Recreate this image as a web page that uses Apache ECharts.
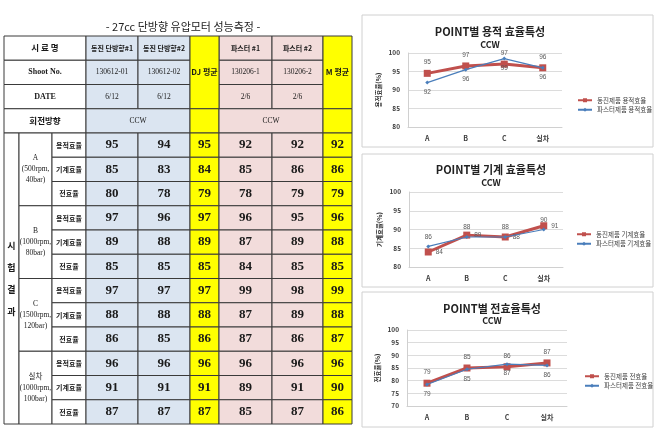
<!DOCTYPE html>
<html><head><meta charset="utf-8">
<script src="https://cdn.jsdelivr.net/npm/echarts@6/dist/echarts.min.js"></script>
<style>html,body{margin:0;padding:0;background:#fff}#c{width:659px;height:439px}</style>
</head><body><div id="c"></div>
<script>
// ---------------- table data ----------------
const tableTitle = '- 27cc 단방향 유압모터 성능측정 -';
const sampleNames = ['동진 단방향#1', '동진 단방향#2', '파스터 #1', '파스터 #2'];
const avgNames = ['DJ 평균', 'M 평균'];
const shootNos = ['130612-01', '130612-02', '130206-1', '130206-2'];
const dates = ['6/12', '6/12', '2/6', '2/6'];
const rotation = ['CCW', 'CCW'];
const pointNames = ['A\n(500rpm,\n40bar)', 'B\n(1000rpm,\n80bar)', 'C\n(1500rpm,\n120bar)', '실차\n(1000rpm,\n100bar)'];
const metricNames = ['용적효율', '기계효율', '전효율'];
const dj1  = [95, 85, 80, 97, 89, 85, 97, 88, 86, 96, 91, 87];
const dj2  = [94, 83, 78, 96, 88, 85, 97, 88, 85, 96, 91, 87];
const djAv = [95, 84, 79, 97, 89, 85, 97, 88, 86, 96, 91, 87];
const ms1  = [92, 85, 78, 96, 87, 84, 99, 87, 87, 96, 89, 85];
const ms2  = [92, 86, 79, 95, 89, 85, 98, 89, 86, 96, 91, 87];
const msAv = [92, 86, 79, 96, 88, 85, 99, 88, 87, 96, 90, 86];

// ---------------- chart data ----------------
const categories = ['A', 'B', 'C', '실차'];
const djVolume = [94.5, 96.5, 97, 96];
const msVolume = [92, 95.5, 98.5, 96];
const djMech = [84, 88.5, 88, 91];
const msMech = [85.5, 88, 88, 90];
const djTotal = [79, 85, 85.5, 87];
const msTotal = [78.5, 84.5, 86.5, 86];
const chartTitles = ['POINT별 용적 효율특성', 'POINT별 기계 효율특성', 'POINT별 전효율특성'];
const chartSub = 'CCW';
const yNames = ['용적효율(%)', '기계효율(%)', '전효율(%)'];
const seriesNames = [
  ['동진제품 용적효율', '파스터제품 용적효율'],
  ['동진제품 기계효율', '파스터제품 기계효율'],
  ['동진제품 전효율', '파스터제품 전효율']
];

// ---------------- layout ----------------
const colEdges = [0, 15, 48, 82, 134, 186, 215, 268, 319, 348];
const KR = '"Noto Sans CJK KR", sans-serif';
const SER = '"Liberation Serif", "Noto Sans CJK KR", serif';
const FILL = { w: '#ffffff', b: '#dbe5f1', p: '#f2dcdb', y: '#ffff00' };
const kinds = {
  hdrK:   { fill: FILL.w, font: KR, size: 8.5, weight: 'bold' },
  hdrE:   { fill: FILL.w, font: SER, size: 8, weight: 'bold' },
  blueK:  { fill: FILL.b, font: KR, size: 7, weight: 'bold' },
  pinkK:  { fill: FILL.p, font: KR, size: 7, weight: 'bold' },
  blueS:  { fill: FILL.b, font: SER, size: 7.5, weight: 'normal' },
  pinkS:  { fill: FILL.p, font: SER, size: 7.5, weight: 'normal' },
  avgHdr: { fill: FILL.y, font: KR, size: 8, weight: 'bold' },
  sideK:  { fill: FILL.w, font: KR, size: 9, weight: 'bold', lh: 22 },
  pointE: { fill: FILL.w, font: SER, size: 7.5, weight: 'normal', lh: 11 },
  metricK:{ fill: FILL.w, font: KR, size: 7, weight: 'bold' },
  blueV:  { fill: FILL.b, font: SER, size: 13, weight: 'bold' },
  pinkV:  { fill: FILL.p, font: SER, size: 13, weight: 'bold' },
  avgV:   { fill: FILL.y, font: SER, size: 13, weight: 'bold' }
};

const cells = [];
function cell(c0, c1, r0, r1, text, kind) { cells.push({ c0, c1, r0, r1, text: String(text), kind }); }
cell(0, 3, 0, 1, '시 료 명', 'hdrK');
cell(0, 3, 1, 2, 'Shoot No.', 'hdrE');
cell(0, 3, 2, 3, 'DATE', 'hdrE');
cell(0, 3, 3, 4, '회전방향', 'hdrK');
const sampleCols = [3, 4, 6, 7];
sampleNames.forEach((n, i) => {
  const c = sampleCols[i], k = i < 2 ? 'blue' : 'pink';
  cell(c, c + 1, 0, 1, n, k + 'K');
  cell(c, c + 1, 1, 2, shootNos[i], k + 'S');
  cell(c, c + 1, 2, 3, dates[i], k + 'S');
});
cell(5, 6, 0, 3, avgNames[0], 'avgHdr');
cell(8, 9, 0, 3, avgNames[1], 'avgHdr');
cell(3, 5, 3, 4, rotation[0], 'blueS');
cell(5, 6, 3, 4, '', 'avgHdr');
cell(6, 8, 3, 4, rotation[1], 'pinkS');
cell(8, 9, 3, 4, '', 'avgHdr');
cell(0, 1, 4, 16, '시\n험\n결\n과', 'sideK');
pointNames.forEach((p, g) => cell(1, 2, 4 + 3 * g, 7 + 3 * g, p, 'pointE'));
for (let r = 0; r < 12; r++) {
  const row = 4 + r;
  cell(2, 3, row, row + 1, metricNames[r % 3], 'metricK');
  cell(3, 4, row, row + 1, dj1[r], 'blueV');
  cell(4, 5, row, row + 1, dj2[r], 'blueV');
  cell(5, 6, row, row + 1, djAv[r], 'avgV');
  cell(6, 7, row, row + 1, ms1[r], 'pinkV');
  cell(7, 8, row, row + 1, ms2[r], 'pinkV');
  cell(8, 9, row, row + 1, msAv[r], 'avgV');
}

function renderCell(params, api) {
  const c = cells[params.dataIndex];
  const st = kinds[c.kind];
  const p0 = api.coord([api.value(0), api.value(2)]);
  const p1 = api.coord([api.value(1), api.value(3)]);
  const w = p1[0] - p0[0], h = p1[1] - p0[1];
  return {
    type: 'group',
    children: [
      { type: 'rect', shape: { x: p0[0], y: p0[1], width: w, height: h },
        style: { fill: st.fill, stroke: '#3a3a3a', lineWidth: 1 } },
      { type: 'text', x: p0[0] + w / 2, y: p0[1] + h / 2,
        style: { text: c.text, align: 'center', verticalAlign: 'middle',
          fontFamily: st.font, fontSize: st.size, fontWeight: st.weight,
          lineHeight: st.lh || st.size * 1.2, fill: '#1a1a1a' } }
    ]
  };
}

// ---------------- charts ----------------
const grids = [
  { left: 408, top: 53, width: 154, height: 74 },
  { left: 409, top: 192, width: 154, height: 75 },
  { left: 407, top: 330, width: 160, height: 76 }
];
const yRanges = [[80, 100], [80, 100], [70, 100]];
const titleY = [[21, 35], [159, 173], [298, 311]];
const legendPos = [[572, 92], [571, 226], [579, 368]];
const labelPos = [['top', 'bottom'], ['right', 'top'], ['top', 'bottom']];
const seriesData = [[djVolume, msVolume], [djMech, msMech], [djTotal, msTotal]];

const option = {
  animation: false,
  backgroundColor: '#ffffff',
  title: [
    { text: tableTitle, left: 178, top: 16, textAlign: 'center',
      textStyle: { fontFamily: KR, fontSize: 11, fontWeight: 'normal', color: '#222' } }
  ],
  grid: [{ left: 4, top: 36, width: 348, height: 388 }],
  xAxis: [{ type: 'value', gridIndex: 0, min: 0, max: 348, show: false }],
  yAxis: [{ type: 'value', gridIndex: 0, min: 0, max: 16, inverse: true, show: false }],
  legend: [],
  series: [{
    type: 'custom', xAxisIndex: 0, yAxisIndex: 0, silent: true, clip: false,
    renderItem: renderCell,
    encode: { x: [0, 1], y: [2, 3] },
    data: cells.map(c => [colEdges[c.c0], colEdges[c.c1], c.r0, c.r1])
  }],
  graphic: [
    { type: 'rect', shape: { x: 362, y: 15, width: 291, height: 132 }, style: { fill: 'none', stroke: '#d0d0d0', lineWidth: 1 }, z: -1 },
    { type: 'rect', shape: { x: 362, y: 154, width: 291, height: 133 }, style: { fill: 'none', stroke: '#d0d0d0', lineWidth: 1 }, z: -1 },
    { type: 'rect', shape: { x: 362, y: 292, width: 291, height: 135 }, style: { fill: 'none', stroke: '#d0d0d0', lineWidth: 1 }, z: -1 }
  ]
};

for (let i = 0; i < 3; i++) {
  const gi = i + 1;
  const cx = grids[i].left + grids[i].width / 2;
  option.title.push(
    { text: chartTitles[i], left: cx, top: titleY[i][0], textAlign: 'center',
      textStyle: { fontFamily: KR, fontSize: 11, fontWeight: 'bold', color: '#222' } },
    { text: chartSub, left: cx, top: titleY[i][1], textAlign: 'center',
      textStyle: { fontFamily: KR, fontSize: 9, fontWeight: 'bold', color: '#222' } }
  );
  option.grid.push(grids[i]);
  option.xAxis.push({
    type: 'category', gridIndex: gi, data: categories, boundaryGap: true,
    axisLine: { show: true, lineStyle: { color: '#d0d0d0' } },
    axisTick: { show: false },
    axisLabel: { fontFamily: KR, fontSize: 7, fontWeight: 'bold', color: '#404040', margin: 8 }
  });
  option.yAxis.push({
    type: 'value', gridIndex: gi, min: yRanges[i][0], max: yRanges[i][1], interval: 5,
    name: yNames[i], nameLocation: 'middle', nameGap: 26, nameRotate: 90,
    nameTextStyle: { fontFamily: KR, fontSize: 6.5, fontWeight: 'bold', color: '#333' },
    axisLine: { show: true, lineStyle: { color: '#d0d0d0' } },
    axisTick: { show: false },
    axisLabel: { fontFamily: KR, fontSize: 6.5, fontWeight: 'bold', color: '#404040', margin: 8 },
    splitLine: { show: true, lineStyle: { color: '#dcdcdc' } }
  });
  option.legend.push({
    data: seriesNames[i], left: legendPos[i][0], top: legendPos[i][1], orient: 'vertical',
    itemGap: 3, itemWidth: 14, itemHeight: 5,
    textStyle: { fontFamily: KR, fontSize: 6.5, color: '#404040' }
  });
  option.series.push(
    { type: 'line', name: seriesNames[i][0], xAxisIndex: gi, yAxisIndex: gi, data: seriesData[i][0],
      symbol: 'rect', symbolSize: 7, z: 3,
      lineStyle: { color: '#c0504d', width: 3 }, itemStyle: { color: '#c0504d' },
      label: { show: true, position: labelPos[i][0], distance: 4, fontSize: 6.5, color: '#595959',
        formatter: p => Math.round(p.value) } },
    { type: 'line', name: seriesNames[i][1], xAxisIndex: gi, yAxisIndex: gi, data: seriesData[i][1],
      symbol: 'diamond', symbolSize: 4, z: 4,
      lineStyle: { color: '#4a7ebb', width: 1.2 }, itemStyle: { color: '#4a7ebb' },
      label: { show: true, position: labelPos[i][1], distance: 4, fontSize: 6.5, color: '#595959',
        formatter: p => Math.round(p.value) } }
  );
}

const chart = echarts.init(document.getElementById('c'), null, { renderer: 'canvas' });
chart.setOption(option);
</script>
</body></html>
